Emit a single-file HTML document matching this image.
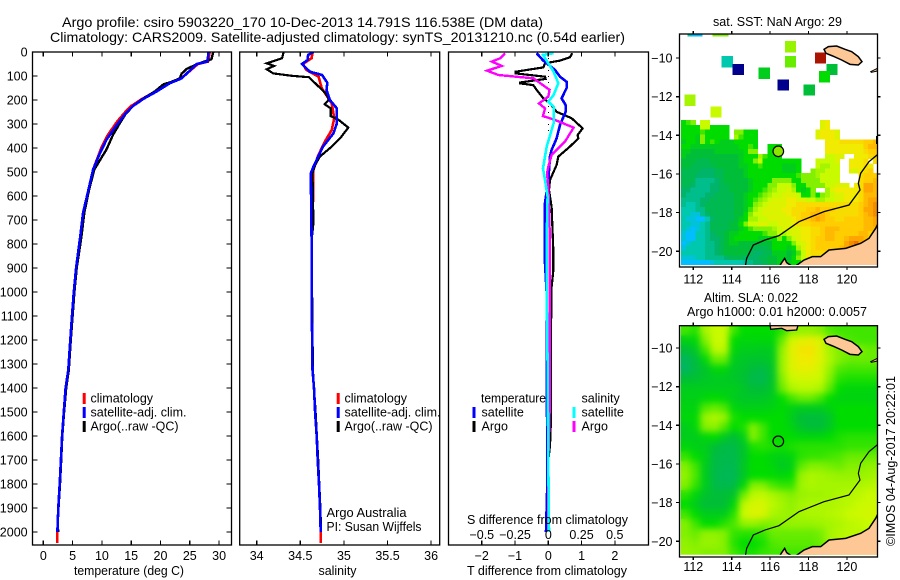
<!DOCTYPE html>
<html lang="en">
<head>
<meta charset="utf-8">
<title>Argo profile 5903220_170</title>
<style>
html,body{margin:0;padding:0;background:#fff;}
svg{display:block;font-family:"Liberation Sans",sans-serif;font-size:12.5px;fill:#000;}
text{fill:#000;stroke:none;}
</style>
</head>
<body>
<svg id="chart" xmlns="http://www.w3.org/2000/svg" width="900" height="580" viewBox="0 0 900 580">
  <defs>
    <clipPath id="clip-map1"><rect x="679.5" y="34" width="198" height="231"/></clipPath>
    <clipPath id="clip-map2"><rect x="679.5" y="325.7" width="198" height="229"/></clipPath>
    <clipPath id="clip-p1"><rect x="32.5" y="52" width="199" height="493"/></clipPath>
    <clipPath id="clip-p2"><rect x="239.7" y="52" width="200" height="493"/></clipPath>
    <clipPath id="clip-p3"><rect x="448.5" y="52" width="200" height="493"/></clipPath>
    <filter id="sla-smooth" filterUnits="userSpaceOnUse" x="670" y="315" width="220" height="250" color-interpolation-filters="sRGB">
      <feGaussianBlur in="SourceGraphic" stdDeviation="3.5" result="soft"/>
      <feMerge><feMergeNode in="SourceGraphic"/><feMergeNode in="soft"/></feMerge>
    </filter>
  </defs>
  <rect x="0" y="0" width="900" height="580" fill="#fff"/>

  <text x="62" y="27" font-size="14" textLength="481" lengthAdjust="spacingAndGlyphs">Argo profile: csiro 5903220_170 10-Dec-2013 14.791S 116.538E (DM data)</text>
  <text x="50" y="42" font-size="14" textLength="575" lengthAdjust="spacingAndGlyphs">Climatology: CARS2009. Satellite-adjusted climatology: synTS_20131210.nc (0.54d earlier)</text>

  <g id="map1-cells" clip-path="url(#clip-map1)" shape-rendering="crispEdges"></g>
  <g id="map2-cells" clip-path="url(#clip-map2)" filter="url(#sla-smooth)" shape-rendering="crispEdges"></g>

  <g clip-path="url(#clip-map1)">
    <g transform="translate(650,10) scale(0.33333)">
      <polygon points="522,118 535,110 560,108 585,118 605,125 625,140 636,155 625,165 600,163 575,150 548,138 528,130" fill="#fdc896" stroke="#000" stroke-width="4.5"/>
      <polygon points="662,185 682,175 682,183 664,187" fill="#fdc896" stroke="#000" stroke-width="3"/>
      <polygon points="687,635 677,655 657,685 632,700 587,715 537,720 512,740 487,740 462,750 437,768 425,768 410,758 404,745 395,758 385,775 687,775" fill="#fdc896" stroke="#000" stroke-width="4.5"/>
      <polyline points="687,430 657,455 632,490 625,520 630,540 597,585 522,605 447,635 387,677 345,690 310,705 290,745 285,775" fill="none" stroke="#000" stroke-width="4"/>
      <polyline points="680,378 680,402" fill="none" stroke="#000" stroke-width="4"/>
    </g>
  </g>
  <g clip-path="url(#clip-map2)">
    <g transform="translate(650,300) scale(0.33333)">
      <polygon points="522,118 535,110 560,108 585,118 605,125 625,140 636,155 625,165 600,163 575,150 548,138 528,130" fill="#fdc896" stroke="#000" stroke-width="4.5"/>
      <polygon points="360,70 362,88 395,85 410,92 440,90 446,70" fill="#fdc896" stroke="#000" stroke-width="4"/>
      <polygon points="662,185 682,175 682,183 664,187" fill="#fdc896" stroke="#000" stroke-width="3"/>
      <polygon points="687,635 677,655 657,685 632,700 587,715 537,720 512,740 487,740 462,750 437,768 425,768 410,758 404,745 395,758 385,775 687,775" fill="#fdc896" stroke="#000" stroke-width="4.5"/>
      <polyline points="687,430 657,455 632,490 625,520 630,540 597,585 522,605 447,635 387,677 345,690 310,705 290,745 285,775" fill="none" stroke="#000" stroke-width="3.5"/>
    </g>
  </g>

  <circle cx="778.3" cy="151.3" r="5.3" fill="#8ce600" stroke="#000" stroke-width="1.2"/>
  <circle cx="778.3" cy="441.3" r="5.3" fill="none" stroke="#000" stroke-width="1.2"/>

  <rect x="679.5" y="34" width="198" height="233" fill="none" stroke="#000" stroke-width="1.3"/>
  <rect x="679.5" y="325.7" width="198" height="231.3" fill="none" stroke="#000" stroke-width="1.3"/>
  <g id="map-axes" shape-rendering="crispEdges"></g>

  <text x="713" y="26" textLength="129" lengthAdjust="spacingAndGlyphs">sat. SST: NaN Argo: 29</text>
  <text x="704" y="302" textLength="94" lengthAdjust="spacingAndGlyphs">Altim. SLA: 0.022</text>
  <text x="687" y="316" textLength="180" lengthAdjust="spacingAndGlyphs">Argo h1000: 0.01 h2000: 0.0057</text>
  <text transform="translate(895,546) rotate(-90)" x="0" y="0" textLength="170" lengthAdjust="spacingAndGlyphs">©IMOS 04-Aug-2017 20:22:01</text>

  <g id="profile-lines" fill="none" shape-rendering="crispEdges"></g>

  <rect x="32.5" y="52" width="199" height="493" fill="none" stroke="#000" stroke-width="1.3"/>
  <rect x="239.7" y="52" width="200" height="493" fill="none" stroke="#000" stroke-width="1.3"/>
  <rect x="448.5" y="52" width="200" height="493" fill="none" stroke="#000" stroke-width="1.3"/>
  <g id="panel-axes" shape-rendering="crispEdges"></g>

  <text x="74" y="575" textLength="110" lengthAdjust="spacingAndGlyphs">temperature (deg C)</text>
  <text x="318.5" y="575" textLength="38" lengthAdjust="spacingAndGlyphs">salinity</text>
  <text x="467" y="575" textLength="160" lengthAdjust="spacingAndGlyphs">T difference from climatology</text>
  <text x="467" y="524" textLength="161" lengthAdjust="spacingAndGlyphs">S difference from climatology</text>

  <g>
    <g><rect x="82.7" y="393" width="3" height="11" fill="#f00"/><text x="90.5" y="402.5">climatology</text></g>
    <g><rect x="82.7" y="407" width="3" height="11" fill="#00f"/><text x="90.5" y="416.5" textLength="96" lengthAdjust="spacingAndGlyphs">satellite-adj. clim.</text></g>
    <g><rect x="82.7" y="421" width="3" height="11" fill="#000"/><text x="90.5" y="430.5" textLength="88" lengthAdjust="spacingAndGlyphs">Argo(..raw -QC)</text></g>
  </g>
  <g>
    <g><rect x="336.7" y="393" width="3" height="11" fill="#f00"/><text x="344.5" y="402.5">climatology</text></g>
    <g><rect x="336.7" y="407" width="3" height="11" fill="#00f"/><text x="344.5" y="416.5" textLength="96" lengthAdjust="spacingAndGlyphs">satellite-adj. clim.</text></g>
    <g><rect x="336.7" y="421" width="3" height="11" fill="#000"/><text x="344.5" y="430.5" textLength="88" lengthAdjust="spacingAndGlyphs">Argo(..raw -QC)</text></g>
  </g>
  <text x="326.5" y="517" textLength="80" lengthAdjust="spacingAndGlyphs">Argo Australia</text>
  <text x="326.5" y="531" textLength="95" lengthAdjust="spacingAndGlyphs">PI: Susan Wijffels</text>
  <g>
    <text x="481" y="402.5" textLength="65" lengthAdjust="spacingAndGlyphs">temperature</text>
    <text x="581.5" y="402.5">salinity</text>
    <g><rect x="472.5" y="407" width="3" height="11" fill="#00f"/><text x="481.5" y="416.5">satellite</text></g>
    <g><rect x="472.5" y="421" width="3" height="11" fill="#000"/><text x="481.5" y="430.5">Argo</text></g>
    <g><rect x="572.5" y="407" width="3" height="11" fill="#0ff"/><text x="581.5" y="416.5">satellite</text></g>
    <g><rect x="572.5" y="421" width="3" height="11" fill="#f0f"/><text x="581.5" y="430.5">Argo</text></g>
  </g>
</svg>

<script>
/* ---------- axis tick arrays ---------- */
const depthTicks = [0,100,200,300,400,500,600,700,800,900,1000,1100,1200,1300,1400,1500,1600,1700,1800,1900,2000];
const tempTicks = [0,5,10,15,20,25,30];
const salTicks = [34,34.5,35,35.5,36];
const tDiffTicks = [-2,-1,0,1,2];
const sDiffTicks = [-0.5,-0.25,0,0.25,0.5];
const lonTicks = [112,114,116,118,120];
const latTicks = [-10,-12,-14,-16,-18,-20];

/* ---------- temperature panel data ---------- */
const tempClimDepth = [0,40,50,110,130,165,195,225,250,290,350,400,490,575,670,770,900,1000,1100,1200,1325,1400,1500,1600,1700,1800,1900,2000,2045];
const tempClimValue = [28.4,28.1,26.4,23.5,21.4,19.1,16.9,15.0,14.0,12.6,10.9,9.9,8.5,7.7,6.8,6.3,5.6,5.2,4.9,4.6,4.27,3.8,3.5,3.2,3.0,2.8,2.56,2.4,2.4];
const tempSatDepth = [0,40,50,110,130,165,195,225,260,315,365,420,490,575,670,770,900,1000,1100,1200,1325,1400,1500,1600,1700,1800,1900,2000];
const tempSatValue = [28.2,28.0,26.2,23.6,21.6,19.3,17.1,15.3,13.9,12.2,10.8,9.7,8.5,7.7,6.8,6.3,5.6,5.2,4.9,4.6,4.27,3.8,3.5,3.2,3.0,2.8,2.56,2.4];
const tempArgoDepth = [0,30,50,70,90,110,125,135,165,195,225,260,295,345,405,450,490,575,670,770,900,1000,1100,1200,1325,1400,1500,1600,1700,1800,1900,1960,2000];
const tempArgoValue = [29.0,28.7,26.3,24.5,23.6,23.3,21.8,20.5,19.0,17.0,15.3,14.0,13.1,11.9,10.8,9.7,8.7,7.8,7.0,6.5,5.7,5.3,5.0,4.7,4.35,3.9,3.55,3.25,3.05,2.85,2.6,2.45,2.55];

/* ---------- salinity panel data ---------- */
const salClimDepth = [0,26,50,75,103,150,214,276,325,374,436,492,575,783,1000,1325,1400,1500,1600,1700,1800,1900,2000,2045];
const salClimValue = [34.64,34.63,34.53,34.57,34.71,34.745,34.86,34.89,34.86,34.78,34.70,34.65,34.65,34.63,34.63,34.64,34.657,34.67,34.688,34.70,34.714,34.726,34.734,34.734];
const salSatDepth = [0,12,33,50,82,96,128,158,200,235,297,339,394,478,505,783,1000,1325,1400,1500,1600,1700,1800,1900,2000];
const salSatValue = [34.65,34.59,34.585,34.52,34.61,34.75,34.81,34.80,34.84,34.92,34.92,34.88,34.76,34.65,34.62,34.63,34.63,34.64,34.657,34.67,34.688,34.70,34.714,34.726,34.734];
const salArgoDepth = [0,26,47,58,72,89,99,105,137,172,197,218,235,267,283,315,360,394,436,471,505,714,783,1000,1325,1500,1700,1900,2000];
const salArgoValue = [34.31,34.29,34.115,34.2,34.115,34.19,34.40,34.6,34.69,34.79,34.83,34.78,34.85,34.85,34.94,35.05,34.955,34.86,34.725,34.67,34.64,34.65,34.63,34.635,34.645,34.675,34.705,34.73,34.738];

/* ---------- difference panel data ---------- */
const tDiffArgoDepth = [5,22,36,47,64,82,89,103,112,127,131,138,158,193,214,249,276,318,346,360,394,436,471,533,575,645,825,910,980,1160,1320,1530,1640,1700,2000];
const tDiffArgoValue = [0.72,0.65,0.35,-0.1,-0.15,-0.98,-0.98,-0.1,-0.08,-0.85,-0.85,-0.45,-0.35,-0.15,0.05,0.25,0.7,1.03,0.88,0.9,0.65,0.3,0.25,0.05,0.02,0.1,0.15,0.15,0.1,0.08,0.08,0.08,0.05,0,0];
const tDiffSatDepth = [5,36,75,103,124,150,193,221,249,304,360,408,436,533,630,783,880,1000,1800,2000];
const tDiffSatValue = [-0.35,-0.15,0.2,0.35,0.55,0.55,0.4,0.52,0.52,0.35,0.25,0.1,0.05,0,-0.1,-0.1,-0.1,-0.05,-0.03,-0.07];
const sDiffArgoDepth = [5,26,40,58,78,96,110,124,158,186,214,235,267,283,315,374,429,478,505,561,645,783,1300,1500,1700,2000];
const sDiffArgoValue = [-0.325,-0.36,-0.425,-0.35,-0.46,-0.375,-0.11,-0.075,0.01,0,-0.07,-0.025,-0.04,0.05,0.19,0.125,0.025,0,-0.01,0,0.005,0.012,0.012,0.01,0,0];
const sDiffSatDepth = [5,12,47,82,130,179,207,228,297,394,485,533,603,783,1000,1300,1700,2000];
const sDiffSatValue = [0.04,-0.04,0,0.04,0.075,0.04,0,0.04,0.04,-0.012,-0.04,-0.025,-0.005,-0.012,-0.012,-0.005,0,0.005];
const sDiffZeroDepth = [0,50,100,150,200,250,300,350];

/* ---------- SST map data: colour-level cells (0 = no data), 0.25 degree grid ---------- */
const sstGridRows = [
 [6,6.5,7,0,8,8,0,0,0,0,0,0,0,0,0,0,0,0,0,0,0, 0,0,0,0,0,0,0,0,8.5,9,0,0,0,0,0,0,0,0,0,0],
 [6,6,6,6,8,8,6,6,6,6,0,0,0,0,0,0,0,0,0,0,0, 0,0,0,0,0,0,0,0,8.5,9,0,0,0,0,0,0,0,0,0,0],
 [6,6,6,6,6.5,6,6,6,6,6,0,7,7,6,6,6,0,0,0,0,0, 0,0,0,0,0,0,0,8.5,9,9,9,8.5,0,0,0,0,0,0,0,0],
 [6,6,6,5.5,7,6,6,6,6,6,0,7.5,6.5,6,6,6,0,0,0,0,0, 0,0,0,0,0,0,0,8.5,9,9,9,8.5,0,0,0,0,0,0,0,0],
 [5.5,6,6,5.5,7,6,6.5,6,5.5,5.5,5.5,6,6,6,6,6,0,0,0,0,0, 0,0,0,0,0,0,0,0,0,9,9,9,9.5,9.5,9.5,9.5,9.5,10,10,10.5],
 [6,6,5.5,5.5,5.5,5.5,5.5,5.5,5.5,5.5,5.5,5.5,6,6,6.5,6,0,0,6,6,6, 0,0,0,0,0,0,0,0,0,9,9,9,9,9,9,9,9,10,10.5,10.5],
 [5.5,5.5,5,5,5,5,5,5.5,5.5,5.5,5.5,5.5,5.5,6,7,7,0,0,6,6,6, 0,0,0,0,0,0,0,0,0,9,9,9,9,9,9,9,9,9.5,10,10],
 [5.5,5,5,5,5,5,5,5,5,5,5,5,5.5,6,6,6,7.5,6.5,6,6,6, 0,0,0,0,0,0,0,0,0,8,8,8.5,8.5,0,0,9,9,9,9.5,10],
 [5,5,5,4.5,4.5,4.5,5,5,5,5,5,5,5.5,6,6,7,8,6,6,6,6, 6,6,6,6,0,0,0,8,8,8,8,8.5,0,0,9,9,9,9.5,0,9.5],
 [5,5,4.5,4.5,4.5,4.5,4.5,5,5,5,5,5,5.5,5.5,6,6,6.5,6,6,6,6, 5.5,5.5,5.5,6,0,0,0,8,7.5,7.5,8,8,0,0,9,9,9,9.5,9,0],
 [4.5,4.5,4.5,4.5,4,4,4,4.5,4.5,5,5,5,5,5.5,6,6,6,6,6,6,6, 5.5,5.5,5.5,6,0,0,7,7.5,7.5,8,8,8,0,0,8.5,8.5,9,9.5,10,0],
 [4.5,4.5,4.5,4,4,4,4,4.5,4.5,5,5,5,5,5.5,6,6,6,6,6,6,6, 6,6,6,6.5,7,7,7,7.5,8,8,8,8,0,0,0,0,9.5,10,10,10],
 [4.5,4.5,4.5,3.5,3.5,3.5,3.5,4,4.5,5,5,5,5,5,5.5,6,6,6,6,7,7, 7,7,6,6,7,7,7,7,8,8,8,8,0,0,0,0,9.5,10,10,10.5],
 [4.5,4.5,4,3.5,3.5,3.5,4,4,4.5,4.5,5,5,5,5,5.5,6,6,6,7,7,8, 8,8,7,6,6,7,7,7,7,8,8,8.5,8.5,8.5,0,9,9.5,11,11,10.5],
 [4,4,3.5,3.5,3.5,3.5,4,4,4.5,4.5,5,5,5,5,5.5,6,6,6.5,7,7.5,8, 8,8.5,7.5,6,5.5,6,7,0,0,7.5,8.5,9,9,9,9,9,9.5,11,11,10.5],
 [4,3.5,3.5,3.5,3.5,4,4,4.5,4.5,4.5,4.5,5,5,5.5,6,6,6.5,7,7.5,8,8, 8.5,8.5,8.5,8,6,6,7,6,7,7.5,8,8.5,8.5,9,9,9,9.5,10.5,10.5,10.5],
 [3.5,3.5,3.5,3.5,4,4,4.5,4.5,4.5,4.5,4.5,5,5,5.5,6,6.5,7,7.5,8,8.5,8.5, 8.5,9,9,8.5,8.5,8,8,7.5,7.5,8,8,8.5,8.5,9,9,9,9.5,10.5,11,11],
 [3.5,3,3,3.5,4,4.5,4.5,4.5,4.5,4.5,4.5,5,5,5.5,6,7,7.5,8,8.5,8.5,8.5, 8.5,9,9,9.5,9.5,9.5,9.5,9.5,9.5,9.5,9.5,9.5,9.5,9.5,9.5,9.5,10,10.5,11,11.5],
 [3,3,3,3.5,3.5,4.5,4.5,4.5,4.5,4.5,4.5,5,5,5.5,6.5,7.5,8,8.5,8.5,8.5,8.5, 9,9,9.5,9.5,9.5,10,10,10.5,10,10,10,9.5,9.5,9.5,9.5,9.5,10,11,11,11.5],
 [3,3,2.5,2.5,3.5,4,4.5,4.5,4.5,4.5,4.5,5,5,6,7,8,8,8.5,8.5,8.5,8.5, 8.5,9,9.5,9.5,10,10,10.5,10.5,10.5,10,9.5,9.5,9.5,9.5,9.5,9.5,10,10.5,11,11.5],
 [3,2.5,2.5,2,2,3,4,4.5,4.5,4.5,4.5,5,5.5,6,7.5,7.5,8,8,8.5,8.5,8.5, 8.5,8.5,9,9.5,10,10,10.5,11,10.5,10,10,9.5,9.5,10,10,10,10,10.5,10.5,11],
 [3,3,2.5,2.5,3,3.5,4.5,4.5,4.5,4.5,5,5,6,7,8,8,8.5,8.5,8,8,8.5, 8.5,8.5,9,9.5,9.5,9.5,10,10,10,10,10,10,10,10,10,10,10,10.5,10.5,11],
 [3,2.5,2,2.5,3,3.5,4.5,4.5,4.5,4.5,5,5,5.5,6,6.5,7,7,7,7,7.5,8, 8.5,8.5,8.5,8.5,9,9,9.5,9.5,10,10.5,10.5,10.5,10,10,10,10,10,10.5,10.5,10.5],
 [2.5,2,2,3,3,3.5,4,4.5,4.5,5,5.5,5.5,6,6,6,6,6,6.5,7,7,8, 7.5,8,8.5,8.5,9,9,9.5,9.5,10,10.5,10.5,10,10,10,10,10,10.5,10.5,10,10],
 [2.5,2,2,3,3,3.5,4,4,4.5,5,5.5,6,6,6,6,6,5.5,5.5,6,6,7, 6,7,8,8.5,9,9,9.5,10,10,10.5,10.5,10,10,10.5,11,11,11,10.5,10,10],
 [2,2.5,3,3,3,3.5,3.5,4,4.5,5,5.5,5.5,5,5,5,5,5,5,5,6,6, 6,6,7,8,8.5,9,9.5,10,10,10,10,10,10,11,11.5,12,11,10.5,10,10],
 [2.5,3,3,3,3,3.5,3.5,4,4.5,5,5,5,5,5,5,4.5,4.5,4.5,5,6,6, 6,5.5,6,7.5,8.5,9,9.5,10,10,10,10,10,10.5,11,11,11,10.5,10,10,0],
 [3,3,3,3,3,3.5,3.5,4,4.5,5,5,5,5,5,4.5,4,4,4.5,4.5,5.5,5.5, 5.5,5,5.5,6.5,8,9,9.5,9.5,9.5,10,10,10,10,10,10,10,10,0,0,0],
 [2.5,2.5,2.5,3,3,3.5,3.5,3.5,3.5,4,4.5,4.5,4.5,4,4,4,4.5,4.5,5,5,5.5, 5.5,5,6,7,8,9,9,9.5,0,0,10,10,10,10,0,0,0,0,0,0],
 [2,2,2,2,2,2,2.5,3,3,3,3,3,3,3.5,3.5,4,4,4.5,5,5,5.5, 5.5,5.5,6,6,7.5,9,9,0,0,0,0,0,0,0,0,0,0,0,0,0]
];
const sstPatchLon = [117.07,117.07,118.62,113.77,114.34,115.70,116.69,118.04,119.22,118.84,111.83,113.18,111.98,112.2,113.3,113.55];
const sstPatchLat = [-9.42,-10.19,-10.0,-10.19,-10.59,-10.79,-11.40,-11.66,-10.59,-10.97,-12.19,-12.79,-8.6,-8.6,-8.6,-8.6];
const sstPatchLevel = [7.3,6.8,13,3,1,5.5,1,5,5,6,7.5,8,3,2,7,7];

/* ---------- SLA map data: colour level, 0.5 degree grid ---------- */
const slaGridRows = [
 [6.5,6.3,7.5,8,8,6.5,6,6,6,6,6.3,7,7.2,7.2,7,6.6,6.5,6.5,6.5,6.5,6.5],
 [5.6,5.8,7,8,8,6,5.8,5.8,5.8,5.8,6.8,8.2,8.6,8.8,8.4,7.3,6.8,6.6,6.5,6.5,6.5],
 [5,5.3,6.5,7.8,7.8,5.8,5.5,5.5,5.4,5.5,7.2,8.6,9.2,9.3,8.5,7.5,7,7,7,6.8,6.8],
 [4.3,4.8,5.8,6.8,6.8,5.5,5.3,5.2,5.2,5.4,7.3,8.5,9,9,8.5,7.6,7,6.8,6.8,6.8,6.8],
 [4.2,4.8,5.2,5.8,5.8,5.3,5.2,4.9,4.7,5.2,7.3,8.4,8.7,8.7,8.2,7.3,6.6,6.5,6.5,6.5,6.5],
 [5,5.1,5.3,5.4,5.4,5.3,5.1,4.6,4.5,5.2,7,8,8.2,8.2,8,7,6.3,6.2,6.2,6.2,6.2],
 [5.5,5.5,5.5,5.5,5.5,5.5,5.3,5,5,5.3,6.8,7.6,7.8,7.8,7.6,6.7,6,5.8,5.8,5.8,5.8],
 [5.6,5.6,5.8,6,5.8,5.5,5.3,5.3,5.3,5.5,6,6.5,6.8,6.8,6.5,6,5.7,5.7,5.7,5.7,5.7],
 [5.7,5.7,6.6,6.8,6.6,5.8,5.6,5.6,5.6,5.7,5.9,5.7,5.5,5.5,5.5,5.7,6,6,6,6,6],
 [5.8,5.9,7.3,7.6,7.3,6.2,6,6,6,6,6,5.5,5,4.9,4.9,5.3,6,6,6,6,6],
 [5.5,5.8,7,7.2,6.6,6,6.2,7,6.5,6,6,5.7,5.2,5,5,5.4,6,6,6,6,6],
 [5.5,5.5,5.8,6,5.4,5,5.6,7,6.5,6,6,6,5.8,5.8,5.8,6,6.2,6.3,6.3,6.3,6.3],
 [5.8,5.6,5.5,5,4.7,4.7,5.2,6.2,6.3,6.2,6.1,6.2,6.3,6.3,6.3,6.3,6.3,6.4,6.4,6.4,6.4],
 [6.4,6,5.6,4.8,4.6,4.6,5.2,6,6,5.7,5.6,5.8,6.3,6.4,6.4,6.5,6.6,6.8,6.8,6.8,6.8],
 [7,6.5,5.5,4.7,4.5,4.5,5.3,6,6,5.8,5.4,5.6,6.7,7,7,6.9,6.8,7,7,7.2,7.2],
 [7.2,6.6,5.5,4.6,4.4,4.4,5.3,6,6,6,5.8,6,7.3,7.6,7.5,7.4,7.3,7.3,7.3,7.4,7.5],
 [7,6.4,5.5,4.7,4.5,4.7,5.8,7,7,6.6,6.4,6.4,7.4,7.6,7.5,7.5,7.5,7.5,7.6,7.7,7.8],
 [6.3,5.8,5.2,5,5,5.2,6.8,7.8,7.9,7.6,7.3,7,7.3,7.4,7.4,7.5,7.6,7.7,7.8,8,8],
 [6,5.5,5,5,5,5.8,7.8,8.3,8.3,7.8,7.5,7.2,7.5,7.6,7.6,7.6,7.7,7.8,8,8.1,8.2],
 [6.5,6,5.5,5.5,5.5,6.3,8,8.5,8.4,7.6,7.4,7.3,7.5,7.6,7.6,7.7,7.8,8,8.1,8.2,8.3],
 [7,6.5,6,6,6.3,6.6,7.2,7.3,7,7,7.2,7.3,7.3,7.3,7.4,7.5,7.6,7.8,7.9,8,8],
 [7,6.8,7.2,7.2,7,6.4,6.3,6.3,6.4,6.8,6.8,6.8,6.8,6.8,6.9,7.5,7.7,7.8,7.8,7.9,8],
 [7.2,7,7.3,7.3,7,6.3,6,6,6.2,6.6,6.7,6.7,6.7,6.7,6.8,7.5,7.7,7.8,7.8,7.9,8],
 [7.3,7.2,7,7,7,6.5,6.2,6.2,6.4,6.5,6.5,6.5,6.5,6.5,6.8,7.5,7.7,7.8,7.8,7.9,8]
];

/* ---------- scales ---------- */
const NS = 'http://www.w3.org/2000/svg';
const depthY = d => 52 + d * 0.24;
const tempX = t => 43.3 + t * 5.86;
const salX = s => 256.7 + (s - 34) * 87.2;
const tDiffX = t => 548.3 + t * 33.3;
const sDiffX = s => 548.3 + s * 133;
const lonX = l => 693.3 + (l - 112) * 19.2;
const map1LatY = la => 58 + (-10 - la) * 19.33;
const map2LatY = la => 348 + (-10 - la) * 19.33;

const colorStops = [[0,0,140],[0,190,255],[0,200,175],[0,180,105],[0,190,55],[0,220,0],[130,240,0],[200,250,0],[240,235,0],[255,205,0],[255,165,0],[235,115,0],[170,20,0]];
function levelColor(v){
  const p = Math.max(0, Math.min(colorStops.length - 1.001, v - 1));
  const i = Math.floor(p), f = p - i;
  const c = colorStops[i].map((a, k) => Math.round(a + (colorStops[i + 1][k] - a) * f));
  return 'rgb(' + c.join(',') + ')';
}
function make(tag, parent){
  const el = document.createElementNS(NS, tag);
  parent.appendChild(el);
  return el;
}
function setRect(el, x, y, w, h, fill){
  el.setAttribute('x', x);
  el.setAttribute('y', y);
  el.setAttribute('width', w);
  el.setAttribute('height', h);
  el.setAttribute('fill', fill);
}
function setLine(el, x1, y1, x2, y2){
  el.setAttribute('x1', x1);
  el.setAttribute('y1', y1);
  el.setAttribute('x2', x2);
  el.setAttribute('y2', y2);
  el.setAttribute('stroke', '#000');
  el.setAttribute('stroke-width', '1.2');
}
function setText(el, x, y, anchor, content){
  el.setAttribute('x', x);
  el.setAttribute('y', y);
  el.setAttribute('text-anchor', anchor);
  el.setAttribute('shape-rendering', 'auto');
  el.textContent = content;
}

/* ---------- maps ---------- */
const gridLon0 = 111.36;
const sstCellDeg = 0.25, slaCellDeg = 0.5;
const map1 = document.getElementById('map1-cells');
const map2 = document.getElementById('map2-cells');
const sstLat0 = -13.207, slaLat0 = -8.845;

sstGridRows.forEach((row, r) => row.forEach((v, c) => {
  if (!v) return;
  const cell = make('rect', map1);
  
  
  setRect(cell, lonX(gridLon0 + c * sstCellDeg), map1LatY(sstLat0 - r * sstCellDeg), 5.2, 5.2, levelColor(v));
}));
sstPatchLon.forEach((lon, i) => {
  const patch = make('rect', map1);
  
  
  setRect(patch, lonX(lon) - 5.6, map1LatY(sstPatchLat[i]) - 5.6, 11.2, 11.2, levelColor(sstPatchLevel[i]));
});
slaGridRows.forEach((row, r) => row.forEach((v, c) => {
  const cell = make('rect', map2);
  
  
  setRect(cell, lonX(gridLon0 + c * slaCellDeg), map2LatY(slaLat0 - r * slaCellDeg), 10.1, 10.1, levelColor(v));
}));

const mapAxes = document.getElementById('map-axes');
[[map1LatY, 34, 267, 283.5], [map2LatY, 325.7, 557, 571]].forEach(cfg => {
  const [latY, top, bottom, labelY] = cfg;
  latTicks.forEach(la => {
    const leftTick = make('line', mapAxes);
    
    
    setLine(leftTick, 676, latY(la), 679.5, latY(la));
    const rightTick = make('line', mapAxes);
    
    
    setLine(rightTick, 877.5, latY(la), 880.5, latY(la));
    const label = make('text', mapAxes);
    
    
    setText(label, 672.5, latY(la) + 4.5, 'end', '\u2212' + Math.abs(la));
  });
  lonTicks.forEach(l => {
    const topTick = make('line', mapAxes);
    
    
    setLine(topTick, lonX(l), top - 3, lonX(l), top);
    const bottomTick = make('line', mapAxes);
    
    
    setLine(bottomTick, lonX(l), bottom, lonX(l), bottom + 3);
    const label = make('text', mapAxes);
    
    
    setText(label, lonX(l), labelY, 'middle', String(l));
  });
});

/* ---------- profile lines ---------- */
const lineGroup = document.getElementById('profile-lines');
function drawProfile(depths, values, xScale, color, width, clipId){
  const pl = make('polyline', lineGroup);
  pl.setAttribute('points', depths.map((d, i) => xScale(values[i]).toFixed(1) + ',' + depthY(d).toFixed(1)).join(' '));
  pl.setAttribute('stroke', color);
  pl.setAttribute('stroke-width', width);
  pl.setAttribute('fill', 'none');
  pl.setAttribute('clip-path', 'url(#' + clipId + ')');
  return pl;
}
let series;
series = drawProfile(tempClimDepth, tempClimValue, tempX, '#f00', 2.6, 'clip-p1');


series = drawProfile(tempArgoDepth, tempArgoValue, tempX, '#000', 2.4, 'clip-p1');


series = drawProfile(tempSatDepth, tempSatValue, tempX, '#00f', 2.6, 'clip-p1');



series = drawProfile(salClimDepth, salClimValue, salX, '#f00', 2.6, 'clip-p2');


series = drawProfile(salArgoDepth, salArgoValue, salX, '#000', 2.2, 'clip-p2');


series = drawProfile(salSatDepth, salSatValue, salX, '#00f', 2.6, 'clip-p2');



series = drawProfile(sDiffZeroDepth, sDiffZeroDepth.map(() => 0), sDiffX, '#000', 1, 'clip-p3');
series.setAttribute('stroke-dasharray', '1 5');


series = drawProfile(tDiffArgoDepth, tDiffArgoValue, tDiffX, '#000', 2.2, 'clip-p3');


series = drawProfile(tDiffSatDepth, tDiffSatValue, tDiffX, '#00f', 2.6, 'clip-p3');


series = drawProfile(sDiffArgoDepth, sDiffArgoValue, sDiffX, '#f0f', 2.4, 'clip-p3');


series = drawProfile(sDiffSatDepth, sDiffSatValue, sDiffX, '#0ff', 2.6, 'clip-p3');



/* ---------- panel axes ---------- */
const panelAxes = document.getElementById('panel-axes');
depthTicks.forEach(d => {
  const y = depthY(d);
  const leftTick = make('line', panelAxes);
  
  
  setLine(leftTick, 32.5, y, 37.5, y);
  const rightTick = make('line', panelAxes);
  
  
  setLine(rightTick, 226.5, y, 231.5, y);
  const label = make('text', panelAxes);
  
  
  setText(label, 27.6, y + 4.5, 'end', String(d));
});
function xTicks(ticks, scale, top, bottom, labelY, fmt){
  ticks.forEach(v => {
    const x = scale(v);
    const topTick = make('line', panelAxes);
    
    
    setLine(topTick, x, top, x, top + 4.5);
    const bottomTick = make('line', panelAxes);
    
    
    setLine(bottomTick, x, bottom - 4.5, x, bottom);
    const label = make('text', panelAxes);
    
    
    setText(label, x, labelY, 'middle', fmt(v));
  });
}
const fmtSigned = v => (v < 0 ? '\u2212' + Math.abs(v) : String(v));
xTicks(tempTicks, tempX, 52, 545, 560, fmtSigned);
xTicks(salTicks, salX, 52, 545, 560, fmtSigned);
xTicks(tDiffTicks, tDiffX, 52, 545, 560, fmtSigned);
sDiffTicks.forEach(v => {
  const label = make('text', panelAxes);
  
  
  setText(label, sDiffX(v), 539, 'middle', fmtSigned(v));
});
</script>
</body>
</html>
